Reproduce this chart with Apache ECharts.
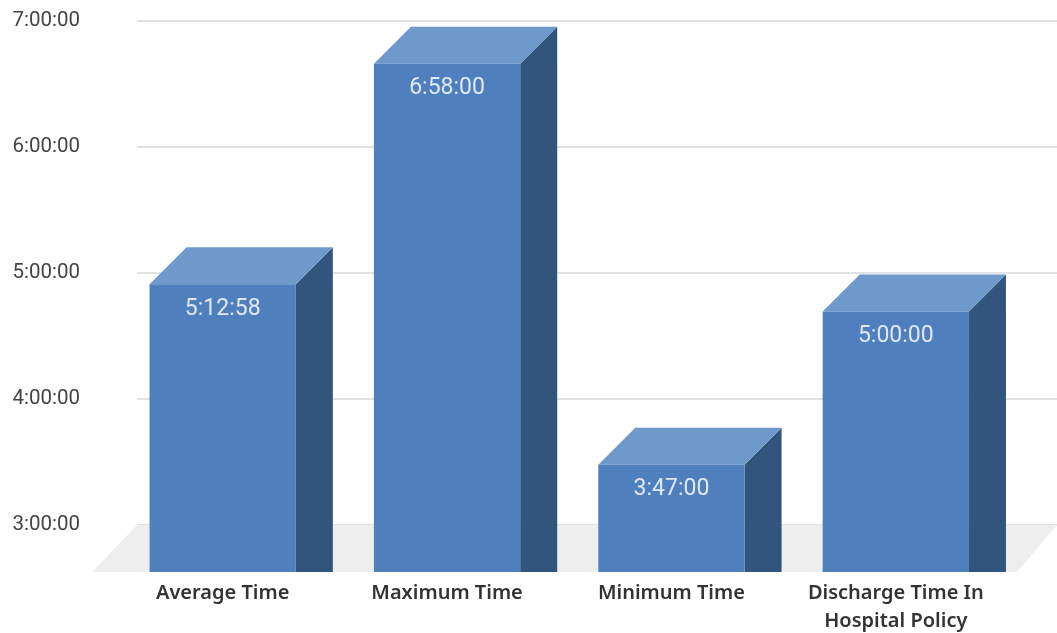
<!DOCTYPE html>
<html><head><meta charset="utf-8">
<style>html,body{margin:0;padding:0;background:#fff}#c{width:1057px;height:633px}</style>
<script src="https://cdn.jsdelivr.net/npm/echarts@6/dist/echarts.min.js"></script></head>
<body><div id="c"></div>
<script>
const categories = ['Average Time', 'Maximum Time', 'Minimum Time', 'Discharge Time In\nHospital Policy'];
const secondsValues = [18778, 25080, 13620, 18000];
const axisMin = 10800, axisMax = 25200, axisStep = 3600;

const DEPTH = 37, FLOOR = 47, BAR_FLOOR = 45.5;
const COL = {front:'#4f7fbc', top:'#6f98cb', side:'#31557d', floor:'#eeeeee', grid:'#d9d9d9'};
function fmt(s){
  const h=Math.floor(s/3600), m=Math.floor(s%3600/60), c=s%60;
  return h+':'+String(m).padStart(2,'0')+':'+String(c).padStart(2,'0');
}
const chart = echarts.init(document.getElementById('c'), null, {renderer:'canvas'});
chart.setOption({
  animation:false,
  grid:[
    {left:137, top:21, width:920, height:504, outerBoundsMode:'none', containLabel:false},
    {left:110.5, top:22.5, width:897.5, height:504, outerBoundsMode:'none', containLabel:false}
  ],
  xAxis:[
    {gridIndex:0, type:'category', data:categories, show:false},
    {gridIndex:1, type:'category', data:categories, offset:BAR_FLOOR,
     axisLine:{show:false}, axisTick:{show:false}, splitLine:{show:false},
     axisLabel:{interval:0, margin:7, color:'#333', fontFamily:'"Noto Sans"', fontWeight:600, fontSize:20, lineHeight:28, hideOverlap:false}}
  ],
  yAxis:[
    {gridIndex:0, type:'value', min:axisMin, max:axisMax, interval:axisStep,
     axisLine:{show:false}, axisTick:{show:false},
     splitLine:{show:true, lineStyle:{color:COL.grid, width:1.5}},
     axisLabel:{margin:57, color:'#444', fontFamily:'Roboto', fontSize:20.5, padding:[2,0,0,0], formatter:fmt}},
    {gridIndex:1, type:'value', min:axisMin, max:axisMax, interval:axisStep, show:false}
  ],
  series:[
    {type:'custom', xAxisIndex:0, yAxisIndex:0, data:[axisMin], clip:false, silent:true, z:2,
     renderItem(p, api){
       const y=api.coord([0,axisMin])[1], cs=p.coordSys;
       return {type:'polygon', shape:{points:[[cs.x,y],[cs.x+cs.width,y],[cs.x+cs.width-40,y+FLOOR],[cs.x-45,y+FLOOR]]}, style:{fill:COL.floor}};
     }},
    {type:'custom', xAxisIndex:1, yAxisIndex:1, data:secondsValues.map((v,i)=>[i,v]), clip:false, silent:true, z:3,
     encode:{x:0,y:1},
     renderItem(p, api){
       const c=api.coord([api.value(0),api.value(1)]);
       const w=api.size([1,0])[0]*0.652;
       const base=api.coord([0,axisMin])[1]+BAR_FLOOR;
       const l=c[0]-w/2, r=c[0]+w/2, t=c[1]+DEPTH, bt=c[1];
       return {type:'group', children:[
         {type:'polygon', shape:{points:[[r,t],[r+DEPTH,bt],[r+DEPTH,base],[r,base]]}, style:{fill:COL.side}},
         {type:'polygon', shape:{points:[[l,t],[l+DEPTH,bt],[r+DEPTH,bt],[r,t]]}, style:{fill:COL.top}},
         {type:'rect', shape:{x:l,y:t,width:w,height:base-t}, style:{fill:COL.front}},
         {type:'text', style:{x:c[0],y:t+24.5,text:fmt(api.value(1)),fill:'#dfe8f3',font:'23px Roboto',align:'center',verticalAlign:'middle'}}
       ]};
     }}
  ]
});
</script></body></html>
